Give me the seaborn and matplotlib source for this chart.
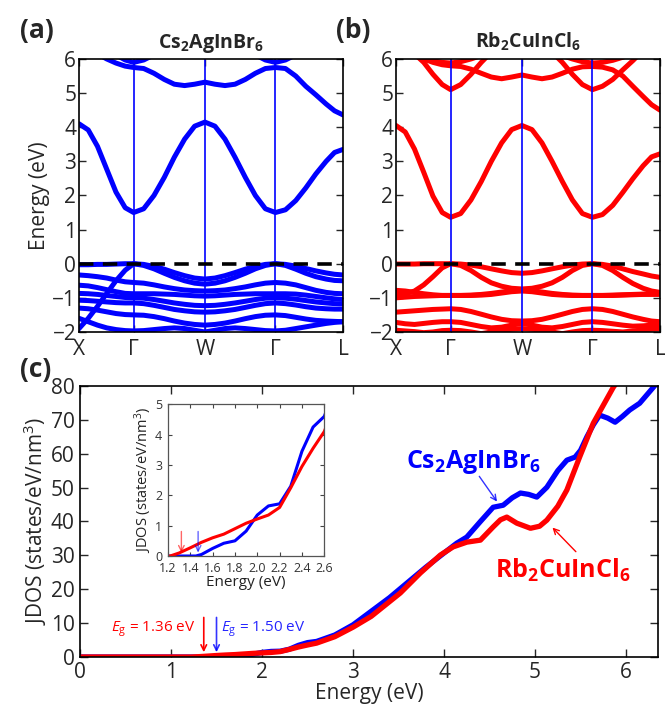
import numpy as np
import pandas as pd
import matplotlib
matplotlib.use("Agg")
import matplotlib.pyplot as plt
import seaborn as sns

# ---------------- data ----------------
K = [0, .035, .07, .105, .14, .175, .207, .245, .284, .323, .361, .40, .438, .477,
     .515, .553, .591, .630, .668, .706, .744, .782, .821, .859, .897, .936, .968, 1.0]
K_NODES = [0, 0.207, 0.477, 0.744, 1.0]
K_LABELS = ["X", "Γ", "W", "Γ", "L"]

# Cs2AgInBr6 bands (eV)
cs_cb = [4.10, 3.92, 3.44, 2.77, 2.10, 1.64, 1.50, 1.61, 2.00, 2.53, 3.12, 3.65, 4.03, 4.15,
         4.03, 3.65, 3.12, 2.53, 2.00, 1.61, 1.50, 1.58, 1.85, 2.22, 2.63, 3.00, 3.26, 3.35]
cs_u1 = [6.40, 6.30, 6.15, 6.00, 5.88, 5.79, 5.75, 5.72, 5.58, 5.40, 5.26, 5.22, 5.26, 5.32,
         5.26, 5.22, 5.26, 5.40, 5.58, 5.72, 5.75, 5.72, 5.50, 5.20, 4.95, 4.68, 4.48, 4.36]
cs_u2 = [6.90, 6.70, 6.50, 6.30, 6.12, 5.97, 5.90, 5.97, 6.12, 6.30, 6.50, 6.70, 6.80, 6.90,
         6.80, 6.70, 6.50, 6.30, 6.12, 5.97, 5.90, 5.97, 6.12, 6.30, 6.50, 6.70, 6.80, 6.90]
cs_v1 = [-0.03, -0.03, -0.02, -0.02, -0.01, 0.0, 0.0, -0.02, -0.08, -0.16, -0.26, -0.35, -0.42, -0.45,
         -0.42, -0.35, -0.26, -0.16, -0.08, -0.02, 0.0, -0.02, -0.07, -0.14, -0.21, -0.27, -0.31, -0.33]
cs_v2 = [-1.90, -1.60, -1.25, -0.87, -0.50, -0.19, 0.0, -0.05, -0.15, -0.28, -0.40, -0.50, -0.57, -0.60,
         -0.57, -0.50, -0.40, -0.28, -0.15, -0.05, 0.0, -0.05, -0.16, -0.28, -0.38, -0.45, -0.49, -0.50]
cs_v3 = [-0.33, -0.35, -0.38, -0.42, -0.48, -0.53, -0.55, -0.57, -0.62, -0.68, -0.73, -0.77, -0.79, -0.80,
         -0.79, -0.77, -0.73, -0.68, -0.62, -0.57, -0.55, -0.57, -0.62, -0.70, -0.78, -0.84, -0.87, -0.88]
cs_v4 = [-0.63, -0.65, -0.70, -0.76, -0.82, -0.87, -0.88, -0.88, -0.88, -0.89, -0.90, -0.92, -0.94, -0.95,
         -0.94, -0.92, -0.90, -0.89, -0.88, -0.88, -0.88, -0.88, -0.89, -0.92, -0.96, -1.00, -1.03, -1.05]
cs_v5 = [-0.87, -0.88, -0.90, -0.93, -0.96, -0.99, -1.00, -1.01, -1.05, -1.10, -1.15, -1.19, -1.22, -1.23,
         -1.22, -1.19, -1.15, -1.10, -1.05, -1.01, -1.00, -1.01, -1.04, -1.08, -1.12, -1.15, -1.17, -1.18]
cs_v6 = [-1.07, -1.08, -1.10, -1.12, -1.14, -1.15, -1.15, -1.17, -1.22, -1.28, -1.34, -1.38, -1.41, -1.42,
         -1.41, -1.38, -1.34, -1.28, -1.22, -1.17, -1.15, -1.17, -1.21, -1.26, -1.30, -1.32, -1.33, -1.33]
cs_v7 = [-1.30, -1.32, -1.36, -1.41, -1.46, -1.49, -1.50, -1.51, -1.55, -1.61, -1.68, -1.74, -1.78, -1.80,
         -1.78, -1.74, -1.68, -1.61, -1.55, -1.51, -1.50, -1.52, -1.57, -1.62, -1.66, -1.68, -1.69, -1.70]
cs_v8 = [-1.60, -1.70, -1.80, -1.88, -1.93, -1.96, -1.97, -1.96, -1.93, -1.90, -1.88, -1.90, -1.95, -2.00,
         -1.95, -1.90, -1.88, -1.90, -1.93, -1.96, -1.97, -1.95, -1.90, -1.85, -1.80, -1.75, -1.72, -1.70]

# Rb2CuInCl6 bands (eV)
rb_cb = [4.05, 3.86, 3.36, 2.68, 1.98, 1.50, 1.36, 1.47, 1.87, 2.41, 3.00, 3.54, 3.93, 4.05,
         3.93, 3.54, 3.00, 2.41, 1.87, 1.47, 1.36, 1.44, 1.71, 2.09, 2.49, 2.87, 3.13, 3.22]
rb_u1 = [6.40, 6.28, 6.12, 6.00, 5.90, 5.83, 5.80, 5.78, 5.70, 5.58, 5.47, 5.42, 5.47, 5.53,
         5.47, 5.42, 5.47, 5.58, 5.70, 5.77, 5.78, 5.76, 5.68, 5.50, 5.20, 4.90, 4.66, 4.50]
rb_u2 = [6.60, 6.40, 6.15, 5.90, 5.55, 5.25, 5.10, 5.25, 5.55, 5.90, 6.20, 6.50, 6.70, 6.80,
         6.70, 6.50, 6.20, 5.90, 5.55, 5.25, 5.10, 5.20, 5.40, 5.68, 5.95, 6.25, 6.50, 6.70]
rb_u3 = [6.30, 6.20, 6.10, 6.02, 5.95, 5.90, 5.88, 5.92, 6.00, 6.10, 6.20, 6.30, 6.35, 6.40,
         6.35, 6.30, 6.20, 6.10, 6.00, 5.92, 5.88, 5.90, 5.96, 6.05, 6.15, 6.25, 6.32, 6.40]
rb_v1 = [-0.01, -0.01, -0.01, 0.0, 0.0, 0.0, 0.0, -0.01, -0.04, -0.09, -0.15, -0.21, -0.26, -0.28,
         -0.26, -0.21, -0.15, -0.09, -0.04, -0.01, 0.0, -0.02, -0.07, -0.15, -0.23, -0.30, -0.36, -0.40]
rb_v2 = [-0.90, -0.88, -0.80, -0.62, -0.38, -0.12, 0.0, -0.05, -0.20, -0.40, -0.56, -0.66, -0.72, -0.74,
         -0.72, -0.66, -0.56, -0.40, -0.20, -0.05, 0.0, -0.05, -0.20, -0.40, -0.58, -0.72, -0.80, -0.84]
rb_v3 = [-0.78, -0.80, -0.84, -0.88, -0.91, -0.93, -0.93, -0.93, -0.92, -0.90, -0.87, -0.83, -0.79, -0.78,
         -0.79, -0.83, -0.87, -0.90, -0.92, -0.93, -0.93, -0.93, -0.92, -0.91, -0.90, -0.89, -0.88, -0.88]
rb_v4 = [-1.00, -0.98, -0.96, -0.95, -0.94, -0.93, -0.93, -0.93, -0.93, -0.92, -0.90, -0.86, -0.82, -0.80,
         -0.82, -0.86, -0.90, -0.92, -0.93, -0.93, -0.93, -0.93, -0.93, -0.92, -0.91, -0.90, -0.90, -0.90]
rb_v5 = [-1.42, -1.40, -1.38, -1.36, -1.34, -1.33, -1.32, -1.34, -1.40, -1.48, -1.56, -1.63, -1.67, -1.68,
         -1.67, -1.63, -1.56, -1.48, -1.40, -1.34, -1.32, -1.34, -1.40, -1.48, -1.56, -1.63, -1.68, -1.70]
rb_v6 = [-1.72, -1.76, -1.78, -1.75, -1.72, -1.70, -1.70, -1.72, -1.78, -1.84, -1.88, -1.86, -1.80, -1.75,
         -1.80, -1.86, -1.88, -1.84, -1.78, -1.72, -1.70, -1.72, -1.76, -1.80, -1.83, -1.82, -1.80, -1.78]
rb_v7 = [-1.95, -1.97, -1.99, -2.02, -2.00, -1.96, -1.95, -1.96, -2.00, -2.05, -2.00, -1.95, -1.92, -1.90,
         -1.92, -1.95, -2.00, -2.05, -2.00, -1.96, -1.95, -1.96, -1.98, -2.00, -1.97, -1.94, -1.92, -1.90]

cs_bands = [cs_cb, cs_u1, cs_u2, cs_v1, cs_v2, cs_v3, cs_v4, cs_v5, cs_v6, cs_v7, cs_v8]
rb_bands = [rb_cb, rb_u1, rb_u2, rb_u3, rb_v1, rb_v2, rb_v3, rb_v4, rb_v5, rb_v6, rb_v7]

# JDOS (states/eV/nm^3)
cs_E = [0, 1.45, 1.5, 1.6, 1.7, 1.8, 1.9, 2.0, 2.1, 2.2, 2.3, 2.4, 2.5, 2.6, 2.8, 3.0, 3.2, 3.4,
        3.6, 3.8, 4.0, 4.14, 4.25, 4.4, 4.54, 4.65, 4.75, 4.84, 4.93, 5.02, 5.13, 5.25, 5.35,
        5.44, 5.5, 5.57, 5.64, 5.71, 5.8, 5.88, 5.96, 6.04, 6.15, 6.3, 6.4]
cs_J = [0, 0, 0.05, 0.25, 0.42, 0.5, 0.82, 1.35, 1.65, 1.72, 2.3, 3.45, 4.25, 4.6, 6.5, 9.5,
        13.5, 17.5, 22, 26.5, 30.7, 33.6, 35.4, 40, 44.2, 44.8, 47, 48.4, 48, 47.2, 50.1, 55,
        58.1, 59, 61, 65, 68.5, 71.4, 70.5, 69.3, 71, 72.9, 74.9, 79.6, 83]
rb_E = [0, 1.22, 1.3, 1.4, 1.5, 1.6, 1.7, 1.8, 1.9, 2.0, 2.1, 2.2, 2.3, 2.4, 2.5, 2.6, 2.8, 3.0,
        3.2, 3.52, 3.74, 3.96, 4.1, 4.25, 4.40, 4.54, 4.62, 4.69, 4.8, 4.95, 5.05, 5.13, 5.25,
        5.35, 5.49, 5.64, 5.86, 5.95]
rb_J = [0, 0, 0.1, 0.27, 0.45, 0.6, 0.72, 0.9, 1.08, 1.22, 1.35, 1.6, 2.25, 2.95, 3.55, 4.1, 6,
        8.8, 12, 18.9, 24.8, 30.1, 32.5, 33.9, 34.5, 38.4, 40.5, 41.3, 39.5, 38, 38.6, 40.4, 44.5,
        49.3, 59, 69, 79.6, 83]

GAP_CS = 1.50
GAP_RB = 1.36
INSET_GAP_CS = 1.47
INSET_GAP_RB = 1.32

BLUE = "#0000ff"
RED = "#ff0000"

# ---------------- style ----------------
sns.set_style("ticks")
plt.rcParams["font.family"] = ["Open Sans", "DejaVu Sans"]
plt.rcParams["mathtext.fontset"] = "custom"
plt.rcParams["mathtext.rm"] = "Open Sans"
plt.rcParams["mathtext.it"] = "Open Sans:italic"
plt.rcParams["mathtext.bf"] = "Open Sans:bold"
plt.rcParams["xtick.direction"] = "in"
plt.rcParams["ytick.direction"] = "in"
plt.rcParams["axes.edgecolor"] = "black"
plt.rcParams["axes.linewidth"] = 1.2

fig = plt.figure(figsize=(6.65, 7.19), dpi=100)
ax_a = fig.add_axes([0.1188, 0.5383, 0.397, 0.3797])
ax_b = fig.add_axes([0.5955, 0.5383, 0.397, 0.3797])
ax_c = fig.add_axes([0.1203, 0.0862, 0.869, 0.377])
ax_i = fig.add_axes([0.2526, 0.2267, 0.235, 0.211])


def band_panel(ax, bands, color, title, show_ylabel):
    for b in bands:
        sns.lineplot(x=K, y=b, ax=ax, color=color, lw=3.6, sort=False,
                     estimator=None, legend=False, solid_capstyle="round")
    for kn in K_NODES[1:-1]:
        ax.axvline(kn, color=BLUE, lw=1.2, zorder=3)
    ax.axhline(0, color="black", lw=2.6, ls=(0, (4, 2.6)), zorder=4)
    ax.set_xlim(0, 1)
    ax.set_ylim(-2, 6)
    ax.set_xticks(K_NODES)
    ax.set_xticklabels(K_LABELS)
    ax.set_yticks(range(-2, 7))
    ax.tick_params(axis="both", which="both", top=True, right=True, length=5,
                   width=1, labelsize=15, pad=2)
    ax.tick_params(axis="x", pad=5)
    ax.set_xlabel("")
    if show_ylabel:
        ax.set_ylabel("Energy (eV)", fontsize=15, labelpad=2)
    else:
        ax.set_ylabel("")
    ax.set_title(title, fontsize=14, fontweight="bold", pad=8)
    for s in ax.spines.values():
        s.set_visible(True)
        s.set_zorder(6)


band_panel(ax_a, cs_bands, BLUE, r"$\mathbf{Cs_2AgInBr_6}$", True)
band_panel(ax_b, rb_bands, RED, r"$\mathbf{Rb_2CuInCl_6}$", False)

fig.text(0.030, 0.958, "(a)", fontsize=19, fontweight="bold", ha="left", va="center")
fig.text(0.506, 0.958, "(b)", fontsize=19, fontweight="bold", ha="left", va="center")
fig.text(0.030, 0.486, "(c)", fontsize=19, fontweight="bold", ha="left", va="center")

# ---------------- JDOS main ----------------
df_cs = pd.DataFrame({"E": cs_E, "J": cs_J})
df_rb = pd.DataFrame({"E": rb_E, "J": rb_J})
sns.lineplot(data=df_cs, x="E", y="J", ax=ax_c, color=BLUE, lw=3.8, estimator=None)
sns.lineplot(data=df_rb, x="E", y="J", ax=ax_c, color=RED, lw=3.8, estimator=None)
ax_c.set_xlim(0, 6.35)
ax_c.set_ylim(0, 80)
ax_c.set_xticks(range(0, 7))
ax_c.set_yticks(range(0, 81, 10))
ax_c.tick_params(axis="both", top=True, right=True, length=6, width=1,
                 labelsize=15)
ax_c.tick_params(axis="x", pad=3.5)
ax_c.tick_params(axis="y", pad=4)
ax_c.set_xlabel("Energy (eV)", fontsize=15, labelpad=0)
ax_c.set_ylabel(r"JDOS (states/eV/nm$^3$)", fontsize=15, labelpad=1)
for s in ax_c.spines.values():
    s.set_visible(True)
    s.set_zorder(6)

ax_c.annotate("", xy=(GAP_RB, 0.6), xytext=(GAP_RB, 12.5),
              arrowprops=dict(arrowstyle="->", color=RED, lw=1.2))
ax_c.annotate("", xy=(GAP_CS, 0.6), xytext=(GAP_CS, 12.5),
              arrowprops=dict(arrowstyle="->", color=BLUE, lw=1.2, alpha=0.8))
ax_c.text(1.27, 8.2, r"$E_\mathrm{g}$ = 1.36 eV", color=RED, fontsize=11,
          ha="right", va="center")
ax_c.text(1.55, 8.2, r"$E_\mathrm{g}$ = 1.50 eV", color=BLUE, fontsize=11,
          ha="left", va="center", alpha=0.85)

ax_c.text(3.58, 57.5, r"$\mathbf{Cs_2AgInBr_6}$", color=BLUE, fontsize=18,
          ha="left", va="center")
ax_c.annotate("", xy=(4.6, 45.2), xytext=(4.37, 54.0),
              arrowprops=dict(arrowstyle="->", color=BLUE, lw=1.0, alpha=0.8))
ax_c.text(4.56, 25.5, r"$\mathbf{Rb_2CuInCl_6}$", color=RED, fontsize=18,
          ha="left", va="center")
ax_c.annotate("", xy=(5.17, 38.8), xytext=(5.47, 30.5),
              arrowprops=dict(arrowstyle="->", color=RED, lw=1.0))

# ---------------- inset ----------------
sns.lineplot(data=df_cs, x="E", y="J", ax=ax_i, color=BLUE, lw=2.2, estimator=None)
sns.lineplot(data=df_rb, x="E", y="J", ax=ax_i, color=RED, lw=2.2, estimator=None)
ax_i.set_xlim(1.2, 2.6)
ax_i.set_ylim(0, 5)
ax_i.set_xticks([1.2, 1.4, 1.6, 1.8, 2.0, 2.2, 2.4, 2.6])
ax_i.set_xticklabels(["1.2", "1.4", "1.6", "1.8", "2.0", "2.2", "2.4", "2.6"])
ax_i.set_yticks(range(0, 6))
ax_i.tick_params(axis="both", top=True, right=True, length=3, width=0.8,
                 labelsize=9, colors="#444444", labelcolor="#333333")
ax_i.tick_params(axis="x", pad=4)
ax_i.tick_params(axis="y", pad=4)
ax_i.set_xlabel("Energy (eV)", fontsize=11, labelpad=0, color="#222222")
ax_i.set_ylabel(r"JDOS (states/eV/nm$^3$)", fontsize=10.5, labelpad=1, color="#222222")
for s in ax_i.spines.values():
    s.set_visible(True)
    s.set_linewidth(0.9)
    s.set_edgecolor("#555555")
ax_i.annotate("", xy=(INSET_GAP_RB, 0.02), xytext=(INSET_GAP_RB, 0.9),
              arrowprops=dict(arrowstyle="->", color=RED, lw=1.0, alpha=0.6))
ax_i.annotate("", xy=(INSET_GAP_CS, 0.02), xytext=(INSET_GAP_CS, 0.9),
              arrowprops=dict(arrowstyle="->", color=BLUE, lw=1.0, alpha=0.6))

fig.savefig("out.png", dpi=100)
